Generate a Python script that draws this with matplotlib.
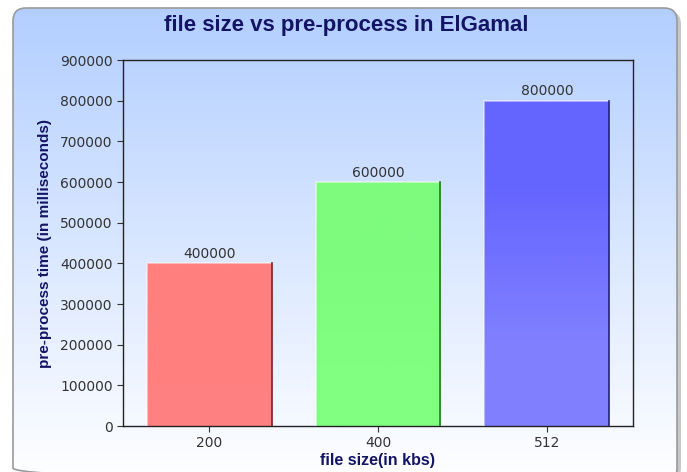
import numpy as np
import matplotlib.pyplot as plt
from matplotlib.colors import to_rgb
from matplotlib.patches import FancyBboxPatch
from matplotlib.ticker import MultipleLocator

sizes = ['200', '400', '512']
times = [400000, 600000, 800000]
top_colors = ['#ff7f7f', '#7dfb7d', '#6464ff']
bottom_colors = ['#ff8080', '#80ff80', '#8080ff']
edge_colors = ['#7a2020', '#207a20', '#20207a']
title_color = '#141464'

W, H = 687, 472
fig = plt.figure(figsize=(W / 100, H / 100), dpi=100)
fig.patch.set_facecolor('white')

# background panel with rounded corners, gradient and drop shadow
bg = fig.add_axes([0, 0, 1, 1], zorder=-10)
bg.set_xlim(0, W)
bg.set_ylim(H, 0)
bg.axis('off')
shadow = FancyBboxPatch((17, 11), 664, 470, boxstyle='round,pad=0,rounding_size=13',
                        fc='#b0b0b0', ec='none', alpha=0.7)
bg.add_patch(shadow)
panel = FancyBboxPatch((13, 8), 664, 473, boxstyle='round,pad=0,rounding_size=13',
                       fc='none', ec='#9a9a9a', lw=1.2, zorder=3)
bg.add_patch(panel)
grad = np.linspace(0, 1, 256)[:, None]
c_top = np.array([0.70, 0.81, 1.0])
c_bot = np.array([1.0, 1.0, 1.0])
img = c_top + (c_bot - c_top) * grad[..., None]
im = bg.imshow(np.repeat(img, 2, axis=1), extent=[13, 677, 481, 8], aspect='auto', zorder=1)
im.set_clip_path(panel)

ax = fig.add_axes([123 / W, 1 - 426 / H, (633 - 123) / W, (426 - 60) / H])
ax.patch.set_alpha(0)
x = np.arange(len(sizes))
width = 0.74
ax.set_xlim(-0.51, 2.51)
ax.set_ylim(0, 900000)

for i, (v, ct, cb, ec) in enumerate(zip(times, top_colors, bottom_colors, edge_colors)):
    bar = ax.bar(x[i], v, width, color='none', edgecolor='none', zorder=2)[0]
    cmap_img = np.array([to_rgb(ct), to_rgb(cb)])
    gi = ax.imshow(cmap_img[:, None, :], extent=[x[i] - width / 2, x[i] + width / 2, 0, v],
                   aspect='auto', zorder=2, interpolation='bilinear')
    gi.set_clip_path(bar)
    # light left/top edge, dark right edge
    ax.plot([x[i] - width / 2, x[i] - width / 2, x[i] + width / 2],
            [0, v, v], color='white', alpha=0.45, lw=1.5, zorder=3)
    ax.plot([x[i] + width / 2, x[i] + width / 2], [v, 0], color=ec, lw=1.2, zorder=3)
    ax.text(x[i], v + 6000, f'{v}', ha='center', va='bottom', fontsize=10, color='#333333')

ax.set_xticks(x)
ax.set_xticklabels(sizes)
ax.yaxis.set_major_locator(MultipleLocator(100000))
ax.tick_params(colors='#333333', labelsize=10, length=4)
for s in ax.spines.values():
    s.set_color('#222222')
    s.set_linewidth(1)

ax.set_xlabel('file size(in kbs)', fontsize=11.5, fontweight='bold', color=title_color,
              family='Liberation Sans', labelpad=2)
ax.set_ylabel('pre-process time (in milliseconds)', fontsize=11, fontweight='bold',
              color=title_color, family='Liberation Sans', labelpad=6)
fig.text((12 + 680) / 2 / W, 1 - 26 / H, 'file size vs pre-process in ElGamal',
         ha='center', va='center', fontsize=16, fontweight='bold', color=title_color,
         family='Liberation Sans')

fig.savefig('out.png', dpi=100)
